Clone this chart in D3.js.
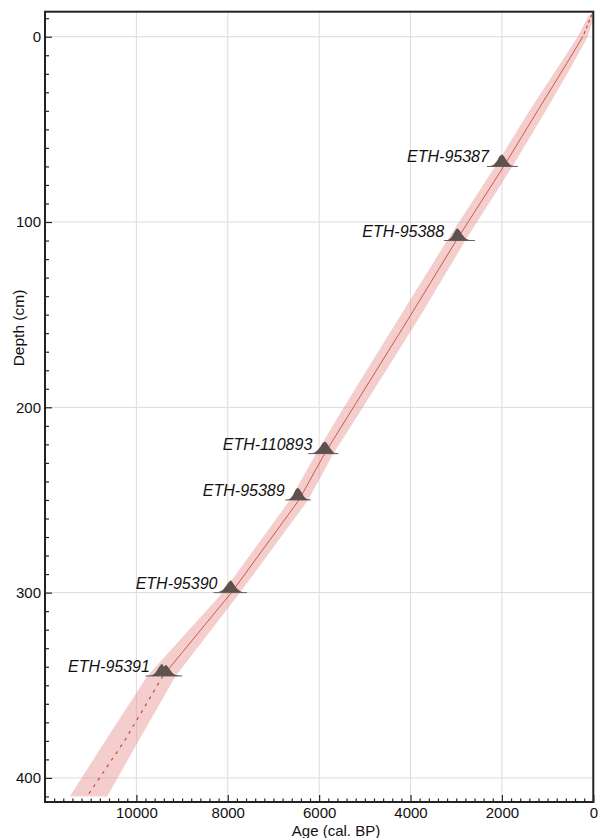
<!DOCTYPE html>
<html>
<head>
<meta charset="utf-8">
<script src="https://cdn.jsdelivr.net/npm/d3@7"></script>
<style>
  html, body { margin: 0; padding: 0; background: #fff; }
  svg { display: block; font-family: "Liberation Sans", Arial, sans-serif; }
</style>
</head>
<body>
<svg id="chart" width="598" height="838"></svg>
<script>
// Age-depth model (cal. BP vs depth in cm)
const modelDepths = [-12, 0, 20, 40, 70, 110, 150, 200, 225, 250, 300, 345, 380, 410];
const modelAges   = [30, 230, 720, 1220, 1960, 3000, 3990, 5250, 5880, 6440, 7920, 9420, 10260, 11080];
const modelMin    = [-30, 120, 570, 1040, 1770, 2800, 3770, 5040, 5690, 6240, 7730, 9140, 9950, 10640];
const modelMax    = [90, 340, 870, 1400, 2150, 3200, 4210, 5460, 6070, 6640, 8110, 9760, 10680, 11460];
// the model is dashed outside the dated interval
const solidTop = 0;
const solidBottom = 345;

// Radiocarbon dates with calibrated probability distributions
const dateLabels = ["ETH-95387", "ETH-95388", "ETH-110893", "ETH-95389", "ETH-95390", "ETH-95391"];
const dateDepths = [70, 110, 225, 250, 300, 345];
const datePeakAges = [2000, 2980, 5865, 6470, 7941, 9420];
const dateProbAges = [
  [2330, 2250, 2180, 2110, 2050, 2000, 1950, 1890, 1820, 1740, 1650],
  [3270, 3180, 3110, 3040, 2980, 2930, 2870, 2800, 2700, 2590],
  [6240, 6150, 6060, 5970, 5910, 5865, 5820, 5750, 5680, 5580],
  [6740, 6650, 6580, 6520, 6470, 6420, 6360, 6290, 6180],
  [8310, 8200, 8100, 8020, 7960, 7930, 7880, 7800, 7700, 7580],
  [9800, 9680, 9580, 9500, 9440, 9400, 9350, 9300, 9220, 9130, 9000]
];
const dateProbDens = [
  [0, 0.04, 0.15, 0.45, 0.85, 1, 0.8, 0.45, 0.15, 0.04, 0],
  [0, 0.05, 0.25, 0.7, 1, 0.85, 0.5, 0.2, 0.05, 0],
  [0, 0.04, 0.2, 0.6, 0.92, 1, 0.8, 0.4, 0.1, 0],
  [0, 0.08, 0.35, 0.8, 1, 0.85, 0.45, 0.12, 0],
  [0, 0.05, 0.25, 0.65, 0.95, 1, 0.75, 0.35, 0.08, 0],
  [0, 0.05, 0.3, 0.75, 1, 0.8, 0.92, 0.7, 0.3, 0.08, 0]
];

// Axis ticks
const ageTicks = [10000, 8000, 6000, 4000, 2000, 0];
const depthTicks = [0, 100, 200, 300, 400];
const ageMinorStep = 200;
const depthMinorStep = 10;

const svg = d3.select("#chart");
const pLeft = 45, pRight = 593.3, pTop = 11.7, pBottom = 802;

const x = d3.scaleLinear().domain([12000, 0]).range([pLeft, pRight]);
const y = d3.scaleLinear().domain([-13.5, 413]).range([pTop, pBottom]);

svg.append("defs").append("clipPath").attr("id", "plotclip")
  .append("rect").attr("x", pLeft).attr("y", pTop)
  .attr("width", pRight - pLeft).attr("height", pBottom - pTop);

// grid
const grid = svg.append("g");
grid.selectAll("line.gx").data(ageTicks).join("line")
  .attr("x1", d => x(d)).attr("x2", d => x(d))
  .attr("y1", pTop).attr("y2", pBottom)
  .attr("stroke", "#dcdcdc").attr("stroke-width", 1);
grid.selectAll("line.gy").data(depthTicks).join("line")
  .attr("x1", pLeft).attr("x2", pRight)
  .attr("y1", d => y(d)).attr("y2", d => y(d))
  .attr("stroke", "#dcdcdc").attr("stroke-width", 1);

const plot = svg.append("g").attr("clip-path", "url(#plotclip)");

// uncertainty envelope
const model = modelDepths.map((d, i) => ({ depth: d, age: modelAges[i], lo: modelMin[i], hi: modelMax[i] }));
plot.append("path")
  .datum(model)
  .attr("d", d3.area().y(d => y(d.depth)).x0(d => x(d.lo)).x1(d => x(d.hi)))
  .attr("fill", "#e58a85").attr("fill-opacity", 0.42);

// median model line: solid within the dated interval, dashed outside
const line = d3.line().x(d => x(d.age)).y(d => y(d.depth));
function segment(d0, d1) {
  const pts = model.filter(m => m.depth >= d0 && m.depth <= d1);
  const interp = dd => {
    const i = d3.bisectLeft(modelDepths, dd);
    if (modelDepths[i] === dd) return model[i];
    const a = model[i - 1], b = model[i];
    const t = (dd - a.depth) / (b.depth - a.depth);
    return { depth: dd, age: a.age + t * (b.age - a.age) };
  };
  if (!pts.length || pts[0].depth !== d0) pts.unshift(interp(d0));
  if (pts[pts.length - 1].depth !== d1) pts.push(interp(d1));
  return pts;
}
plot.append("path").datum(segment(solidTop, solidBottom)).attr("d", line)
  .attr("fill", "none").attr("stroke", "#d1574c").attr("stroke-width", 1);
plot.append("path").datum(segment(modelDepths[0], solidTop)).attr("d", line)
  .attr("fill", "none").attr("stroke", "#c9473d").attr("stroke-width", 1.2)
  .attr("stroke-dasharray", "3,3");
plot.append("path").datum(segment(solidBottom, modelDepths[modelDepths.length - 1])).attr("d", line)
  .attr("fill", "none").attr("stroke", "#c9473d").attr("stroke-width", 1.2)
  .attr("stroke-dasharray", "3,5");

// calibrated date distributions
const peakH = 12;
const dates = svg.append("g");
dateLabels.forEach((lab, i) => {
  const pts = dateProbAges[i].map((a, j) => ({ age: a, p: dateProbDens[i][j] }));
  const y0 = y(dateDepths[i]);
  const g = dates.append("g");
  g.append("line")
    .attr("x1", x(d3.max(dateProbAges[i]))).attr("x2", x(d3.min(dateProbAges[i])))
    .attr("y1", y0).attr("y2", y0)
    .attr("stroke", "#6b6360").attr("stroke-width", 1);
  g.append("path").datum(pts)
    .attr("d", d3.area().curve(d3.curveMonotoneX)
      .x(d => x(d.age)).y0(y0).y1(d => y0 - d.p * peakH))
    .attr("fill", "#5e524e");
  g.append("text")
    .attr("x", x(datePeakAges[i]) - 13)
    .attr("y", y0 - 4)
    .attr("text-anchor", "end")
    .attr("font-size", 16).attr("font-style", "italic")
    .attr("fill", "#111")
    .text(lab);
});

// axes
const axisColor = "#222";
const yMinor = d3.range(-10, 411, depthMinorStep).filter(d => d % 100 !== 0);
const xMinor = d3.range(ageMinorStep, 12000, ageMinorStep).filter(d => d % 2000 !== 0);

const yAxis = svg.append("g").attr("transform", `translate(${pLeft},0)`)
  .call(d3.axisLeft(y).tickValues(depthTicks).tickSize(-7).tickPadding(4).tickFormat(d3.format("d")));
const yAxisMinor = svg.append("g").attr("transform", `translate(${pLeft},0)`)
  .call(d3.axisLeft(y).tickValues(yMinor).tickSize(-4).tickFormat(""));
const xAxis = svg.append("g").attr("transform", `translate(0,${pBottom})`)
  .call(d3.axisBottom(x).tickValues(ageTicks).tickSize(-7).tickPadding(5.8).tickFormat(d3.format("d")));
const xAxisMinor = svg.append("g").attr("transform", `translate(0,${pBottom})`)
  .call(d3.axisBottom(x).tickValues(xMinor).tickSize(-3.5).tickFormat(""));

[yAxis, yAxisMinor, xAxis, xAxisMinor].forEach(a => {
  a.select(".domain").remove();
  a.selectAll(".tick line").attr("stroke", axisColor).attr("stroke-width", 1.2);
  a.selectAll(".tick text").attr("font-size", 15).attr("fill", "#111")
    .attr("font-family", "Liberation Sans, Arial, sans-serif");
});

// frame
svg.append("rect")
  .attr("x", pLeft).attr("y", pTop)
  .attr("width", pRight - pLeft).attr("height", pBottom - pTop)
  .attr("fill", "none").attr("stroke", axisColor).attr("stroke-width", 2);

// axis titles
svg.append("text")
  .attr("x", 336).attr("y", 835.6)
  .attr("text-anchor", "middle").attr("font-size", 15).attr("fill", "#111")
  .text("Age (cal. BP)");
svg.append("text")
  .attr("transform", "translate(24,328) rotate(-90)")
  .attr("text-anchor", "middle").attr("font-size", 15.5).attr("fill", "#111")
  .text("Depth (cm)");
</script>
</body>
</html>
